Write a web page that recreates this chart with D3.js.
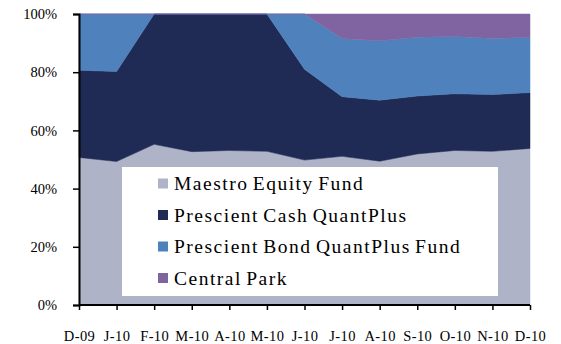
<!DOCTYPE html>
<html>
<head>
<meta charset="utf-8">
<script src="https://cdn.jsdelivr.net/npm/d3@7"></script>
<style>
html,body{margin:0;padding:0;background:#fff;}
svg{display:block;}
</style>
</head>
<body>
<svg id="chart" width="561" height="344"></svg>
<script>
const categories = ["D-09","J-10","F-10","M-10","A-10","M-10","J-10","J-10","A-10","S-10","O-10","N-10","D-10"];
const seriesNames = ["Maestro Equity Fund","Prescient Cash QuantPlus","Prescient Bond QuantPlus Fund","Central Park"];
const maestro = [50.7, 49.3, 55.2, 52.7, 53.1, 52.8, 49.8, 51.1, 49.4, 51.9, 53.1, 52.8, 53.8];
const cash    = [30.0, 30.9, 44.8, 47.3, 46.9, 47.2, 31.2, 20.5, 21.0, 19.9, 19.5, 19.5, 19.2];
const bond    = [19.3, 19.8,  0.0,  0.0,  0.0,  0.0, 19.0, 20.0, 20.4, 20.2, 19.7, 19.3, 19.0];
const central = [ 0.0,  0.0,  0.0,  0.0,  0.0,  0.0,  0.0,  8.4,  9.2,  8.0,  7.7,  8.4,  8.0];
const yTicks = [0,20,40,60,80,100];
const colors = ["#aeb3c8","#1f2a55","#4f81bd","#8064a2"];

const svg = d3.select("#chart");
const mLeft = 79, mRight = 530, mTop = 14, mBottom = 305;

const rows = categories.map((c,i)=>({idx:i, s0:maestro[i], s1:cash[i], s2:bond[i], s3:central[i]}));
const stack = d3.stack().keys(["s0","s1","s2","s3"]).offset(d3.stackOffsetExpand);
const layers = stack(rows);

const x = d3.scalePoint().domain(d3.range(categories.length)).range([mLeft, mRight]);
const y = d3.scaleLinear().domain([0,1]).range([mBottom, mTop]);

const area = d3.area()
  .x(d=>x(d.data.idx))
  .y0(d=>y(d[0]))
  .y1(d=>y(d[1]));

svg.append("g").selectAll("path").data(layers).join("path")
  .attr("d", area)
  .attr("fill", (d,i)=>colors[i])
  .attr("stroke", (d,i)=>colors[i])
  .attr("stroke-width", 0.5);

// legend
const lg = svg.append("g");
lg.append("rect").attr("x",122).attr("y",167).attr("width",376).attr("height",129).attr("fill","#fff");
seriesNames.forEach((n,i)=>{
  const cy = 183.5 + i*31.5;
  lg.append("rect").attr("x",158).attr("y",cy-5).attr("width",10).attr("height",10).attr("fill",colors[i]);
  lg.append("text").attr("x",174).attr("y",cy+6.5)
    .attr("font-family","'Liberation Serif', 'Times New Roman', serif")
    .attr("font-size",19.5).attr("letter-spacing",1.5).attr("word-spacing",-2)
    .attr("fill","#000").text(n);
});

// axes
const yAxis = d3.axisLeft(d3.scaleLinear().domain([0,100]).range([mBottom, mTop]))
  .tickValues(yTicks).tickFormat(d=>d+"%").tickSize(6).tickPadding(16);
const gy = svg.append("g").attr("transform",`translate(${mLeft},0)`).call(yAxis);
gy.select(".domain").attr("stroke","#000").attr("stroke-width",2);
gy.selectAll(".tick line").attr("stroke","#000").attr("stroke-width",1.5);
gy.selectAll(".tick text").attr("font-family","'Liberation Serif', 'Times New Roman', serif")
  .attr("font-size",14.5).attr("fill","#000");

const xAxis = d3.axisBottom(x).tickSize(5).tickPadding(21).tickFormat(i=>categories[i]);
const gx = svg.append("g").attr("transform",`translate(0,${mBottom})`).call(xAxis);
gx.select(".domain").attr("stroke","#000").attr("stroke-width",2).attr("d",`M${mLeft},0H${mRight}`);
gx.selectAll(".tick line").attr("stroke","#000").attr("stroke-width",1.5);
gx.selectAll(".tick text").attr("font-family","'Liberation Serif', 'Times New Roman', serif")
  .attr("font-size",14.5).attr("letter-spacing",0.4).attr("fill","#000");
</script>
</body>
</html>
